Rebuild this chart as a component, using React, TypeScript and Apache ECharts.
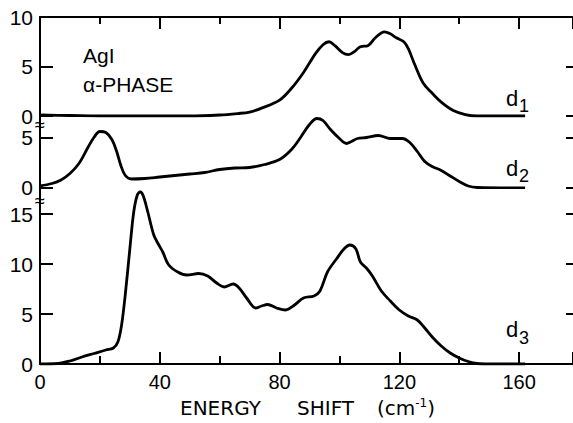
import React, { useEffect, useRef } from "react";
import * as echarts from "echarts";

// d1 (top panel)
const d1X = [0, 10, 20, 30, 40, 50, 60, 66, 70, 74, 80, 84, 88, 92, 94.5, 96.5, 98.5, 101, 103, 105, 107, 109.5, 112, 115, 117, 119, 121.5, 123, 125, 128, 131, 134, 138, 142, 146, 162];
const d1Y = [0.1, 0.05, 0, 0, 0, 0, 0.1, 0.25, 0.4, 0.8, 1.6, 2.8, 4.4, 6.3, 7.2, 7.5, 7.1, 6.4, 6.2, 6.5, 7.0, 7.1, 7.9, 8.5, 8.3, 7.9, 7.5, 6.8, 5.3, 3.3, 2.3, 1.4, 0.55, 0.15, 0, 0];

// d2 (middle panel)
const d2X = [0, 4, 7, 10, 13, 16, 18, 20, 22, 24, 25.5, 27, 28.5, 30.5, 35, 40, 45, 50, 55, 60, 65, 70, 75, 80, 84, 87, 90, 92.5, 94.5, 97, 100, 102.3, 104, 106, 109, 113, 117, 121, 123.5, 126, 128.5, 131, 134, 137, 140, 143, 146, 162];
const d2Y = [0.15, 0.4, 0.75, 1.4, 2.4, 4.0, 5.0, 5.6, 5.5, 4.8, 3.7, 2.2, 1.2, 0.85, 0.9, 1.05, 1.2, 1.35, 1.5, 1.8, 1.95, 2.0, 2.3, 2.8, 3.8, 5.0, 6.3, 6.9, 6.7, 5.8, 4.9, 4.4, 4.6, 4.9, 5.0, 5.2, 4.9, 4.9, 4.5, 3.6, 2.6, 2.1, 1.7, 1.15, 0.6, 0.15, 0, -0.05];

// d3 (bottom panel)
const d3X = [0, 6, 10, 14, 18, 22, 24.5, 26, 27.2, 28.5, 30, 31.3, 32.5, 33.5, 34.5, 36, 38, 39.5, 41, 43, 46, 49, 53, 56, 59, 61.5, 64.5, 66.5, 69, 72, 74, 76, 79, 82, 85, 88, 91.5, 93.5, 96, 99, 101.5, 103.5, 105.5, 107, 109, 111, 114, 117, 120, 123, 126, 128.5, 131, 134, 137, 140, 143, 146, 150, 162];
const d3Y = [0, 0.05, 0.3, 0.7, 1.05, 1.4, 1.6, 2.2, 3.8, 7.0, 11.5, 15.2, 16.9, 17.2, 16.8, 15.2, 12.9, 12.0, 11.2, 9.9, 9.2, 8.9, 9.05, 8.8, 8.1, 7.7, 8.0, 7.6, 6.6, 5.6, 5.8, 5.95, 5.6, 5.4, 5.9, 6.6, 6.8, 7.3, 9.2, 10.5, 11.5, 11.9, 11.5, 10.2, 9.6, 8.8, 7.3, 6.3, 5.4, 4.8, 4.4, 3.6, 2.7, 1.8, 1.1, 0.6, 0.25, 0.05, 0, 0];

const xLabels = [0, 40, 80, 120, 160];
const topLabels = [0, 5, 10];
const midLabels = [0, 5];
const botLabels = [0, 5, 10, 15];

const FONT = "Liberation Sans";
const TITLE_FONT = "DejaVu Sans";
const BLACK = "#000";

function zip(xs: number[], ys: number[]) {
  return xs.map((x, i) => [x, ys[i]]);
}

export default function App() {
  const ref = useRef<HTMLDivElement>(null);
  useEffect(() => {
    if (!ref.current) return;
    const chart = echarts.init(ref.current, null, { renderer: "svg" });
    const line = { show: true, onZero: false, lineStyle: { color: BLACK, width: 2 } };
    const noLine = { show: false, onZero: false };
    const tick = (len: number) => ({
      show: true,
      inside: true,
      length: len,
      lineStyle: { color: BLACK, width: 2 },
    });
    const xBase = { type: "value", min: 0, max: 178, splitLine: { show: false } };
    const yLabel = (vals: number[]) => ({
      show: true,
      customValues: vals,
      margin: 7,
      fontSize: 21,
      color: BLACK,
      fontFamily: FONT,
    });
    const yBase = (grid: number, max: number, pos: string) => ({
      type: "value",
      gridIndex: grid,
      min: 0,
      max,
      interval: 5,
      position: pos,
      splitLine: { show: false },
    });
    const option: any = {
      animation: false,
      backgroundColor: "#fff",
      grid: [
        { left: 40, right: -1, top: 17, height: 99 },
        { left: 40, right: -1, top: 116, height: 71.5 },
        { left: 40, right: -1, top: 187.5, height: 176.5 },
      ],
      xAxis: [
        { ...xBase, gridIndex: 0, position: "top", interval: 40, axisLine: line, axisTick: tick(12), axisLabel: { show: false } },
        { ...xBase, gridIndex: 0, position: "top", interval: 20, axisLine: noLine, axisTick: tick(7), axisLabel: { show: false } },
        { ...xBase, gridIndex: 1, show: false, axisLine: noLine },
        {
          ...xBase,
          gridIndex: 2,
          position: "bottom",
          interval: 40,
          axisLine: line,
          axisTick: tick(12),
          axisLabel: { show: true, customValues: xLabels, margin: 8, fontSize: 20, color: BLACK, fontFamily: FONT },
        },
        { ...xBase, gridIndex: 2, position: "bottom", interval: 20, axisLine: noLine, axisTick: tick(8), axisLabel: { show: false } },
      ],
      yAxis: [
        { ...yBase(0, 10, "left"), axisLine: line, axisTick: tick(13), axisLabel: yLabel(topLabels) },
        { ...yBase(0, 10, "right"), axisLine: noLine, axisTick: tick(7), axisLabel: { show: false } },
        { ...yBase(1, 7.15, "left"), axisLine: line, axisTick: tick(13), axisLabel: yLabel(midLabels) },
        { ...yBase(1, 7.15, "right"), axisLine: noLine, axisTick: tick(7), axisLabel: { show: false } },
        { ...yBase(2, 17.65, "left"), axisLine: line, axisTick: tick(13), axisLabel: yLabel(botLabels) },
        { ...yBase(2, 17.65, "right"), axisLine: noLine, axisTick: tick(7), axisLabel: { show: false } },
      ],
      series: [
        { type: "line", xAxisIndex: 0, yAxisIndex: 0, data: zip(d1X, d1Y), smooth: 0.35, showSymbol: false, lineStyle: { color: BLACK, width: 2.8 } },
        { type: "line", xAxisIndex: 2, yAxisIndex: 2, data: zip(d2X, d2Y), smooth: 0.35, showSymbol: false, lineStyle: { color: BLACK, width: 2.8 } },
        { type: "line", xAxisIndex: 3, yAxisIndex: 4, data: zip(d3X, d3Y), smooth: 0.35, showSymbol: false, lineStyle: { color: BLACK, width: 2.8 } },
      ],
      graphic: [
        { type: "text", x: 83, y: 55, style: { text: "AgI", fontSize: 21, fontFamily: FONT, fill: BLACK, verticalAlign: "middle" } },
        { type: "text", x: 83, y: 84, style: { text: "α-PHASE", fontSize: 21, fontFamily: FONT, fill: BLACK, verticalAlign: "middle" } },
        { type: "text", x: 40, y: 125, style: { text: "≈", fontSize: 18, fontFamily: FONT, fill: BLACK, align: "center", verticalAlign: "middle" } },
        { type: "text", x: 40, y: 201, style: { text: "≈", fontSize: 18, fontFamily: FONT, fill: BLACK, align: "center", verticalAlign: "middle" } },
        { type: "text", x: 506, y: 98, style: { text: "d", fontSize: 22, fontFamily: FONT, fill: BLACK, verticalAlign: "middle" } },
        { type: "text", x: 519, y: 106, style: { text: "1", fontSize: 18, fontFamily: FONT, fill: BLACK, verticalAlign: "middle" } },
        { type: "text", x: 506, y: 168, style: { text: "d", fontSize: 22, fontFamily: FONT, fill: BLACK, verticalAlign: "middle" } },
        { type: "text", x: 519, y: 176, style: { text: "2", fontSize: 18, fontFamily: FONT, fill: BLACK, verticalAlign: "middle" } },
        { type: "text", x: 506, y: 329, style: { text: "d", fontSize: 22, fontFamily: FONT, fill: BLACK, verticalAlign: "middle" } },
        { type: "text", x: 519, y: 338, style: { text: "3", fontSize: 18, fontFamily: FONT, fill: BLACK, verticalAlign: "middle" } },
        { type: "text", x: 180, y: 408, style: { text: "ENERGY", fontSize: 20, fontFamily: TITLE_FONT, fill: BLACK, verticalAlign: "middle" } },
        { type: "text", x: 297, y: 408, style: { text: "SHIFT", fontSize: 20, fontFamily: TITLE_FONT, fill: BLACK, verticalAlign: "middle" } },
        {
          type: "text",
          x: 377,
          y: 408,
          style: {
            text: "(cm{sup|-1})",
            fontSize: 20,
            fontFamily: TITLE_FONT,
            fill: BLACK,
            verticalAlign: "middle",
            rich: { sup: { fontSize: 12, fontFamily: TITLE_FONT, fill: BLACK, padding: [0, 0, 10, 0] } },
          },
        },
      ],
    };
    chart.setOption(option);
    return () => chart.dispose();
  }, []);
  return (
    <div
      ref={ref}
      style={{ position: "fixed", left: 0, top: 0, width: 573, height: 423, background: "#fff" }}
    />
  );
}
